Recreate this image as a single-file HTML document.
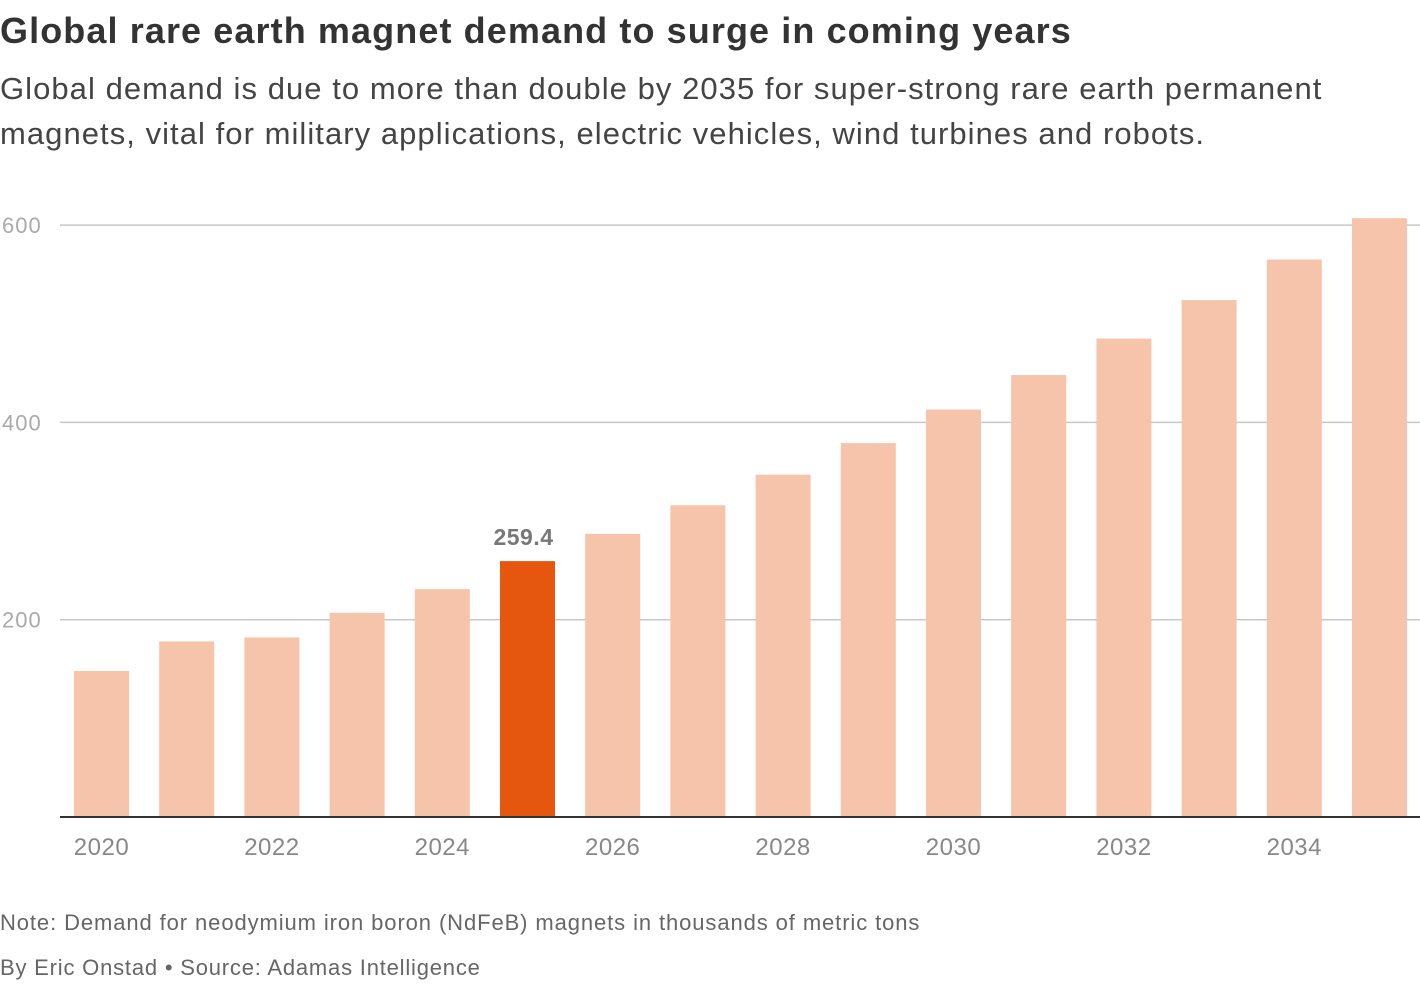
<!DOCTYPE html>
<html><head><meta charset="utf-8">
<style>
body{margin:0;background:#fff;width:1420px;height:984px;overflow:hidden;font-family:"Liberation Sans",sans-serif;}
#title{position:absolute;left:0;top:10px;font-size:36px;font-weight:bold;color:#333;letter-spacing:1.1px;}
#sub{position:absolute;left:0;top:66px;font-size:31px;color:#444;line-height:45px;width:1345px;letter-spacing:1.05px;}
#note{position:absolute;left:0;top:910px;font-size:22px;color:#666;letter-spacing:0.9px;}
#byline{position:absolute;left:0;top:955px;font-size:22px;color:#666;letter-spacing:0.8px;}
svg{position:absolute;left:0;top:0;}
</style></head><body>
<div id="title">Global rare earth magnet demand to surge in coming years</div>
<div id="sub">Global demand is due to more than double by 2035 for super-strong rare earth permanent magnets, vital for military applications, electric vehicles, wind turbines and robots.</div>
<svg id="chart" width="1420" height="984"></svg>
<div id="note">Note: Demand for neodymium iron boron (NdFeB) magnets in thousands of metric tons</div>
<div id="byline">By Eric Onstad • Source: Adamas Intelligence</div>
<script>
const years=[2020,2021,2022,2023,2024,2025,2026,2027,2028,2029,2030,2031,2032,2033,2034,2035];
const demand=[148,178,182,207,231,259.4,287,316,347,379,413,448,485,524,565,607];
const yTicks=[200,400,600];
const xTickLabels=["2020","2022","2024","2026","2028","2030","2032","2034"];
const highlightYear=2025;
const NS="http://www.w3.org/2000/svg";
const svg=document.getElementById('chart');
const y0=817,pxPer=197.3/200;
const yS=v=>y0-v*pxPer;
const step=85.2,bw=55,x0=74;
const xS=i=>x0+i*step;
function mk(t,a){const e=document.createElementNS(NS,t);for(const k in a)e.setAttribute(k,a[k]);svg.appendChild(e);return e;}
yTicks.forEach(v=>{
 const l=mk('line',{x1:60,x2:1420,y1:yS(v),y2:yS(v),stroke:'#c8c8c8','stroke-width':1.5});
 
 
 const t=mk('text',{x:2,y:yS(v)+8,'font-size':22,fill:'#aaa','font-family':'Liberation Sans','letter-spacing':1});
 t.textContent=v;
 
 
});
years.forEach((yr,i)=>{
 const v=demand[i];
 const r=mk('rect',{x:xS(i),y:yS(v),width:bw,height:y0-yS(v),fill:yr===highlightYear?'#e5560f':'#f5c4aa'});
 
 
 if(yr===highlightYear){
  const t=mk('text',{x:xS(i)+bw/2-4,y:yS(v)-16,'text-anchor':'middle','font-size':23,'font-weight':'bold',fill:'#777','font-family':'Liberation Sans','letter-spacing':0.5});
  t.textContent=v.toFixed(1);
  
  
 }
 const lbl=String(yr);
 if(xTickLabels.includes(lbl)){
  const t=mk('text',{x:xS(i)+bw/2,y:855,'text-anchor':'middle','font-size':24,fill:'#888','font-family':'Liberation Sans','letter-spacing':0.5});
  t.textContent=lbl;
  
  
 }
});
const ax=mk('line',{x1:60,x2:1420,y1:y0,y2:y0,stroke:'#333','stroke-width':2});


</script>
</body></html>
